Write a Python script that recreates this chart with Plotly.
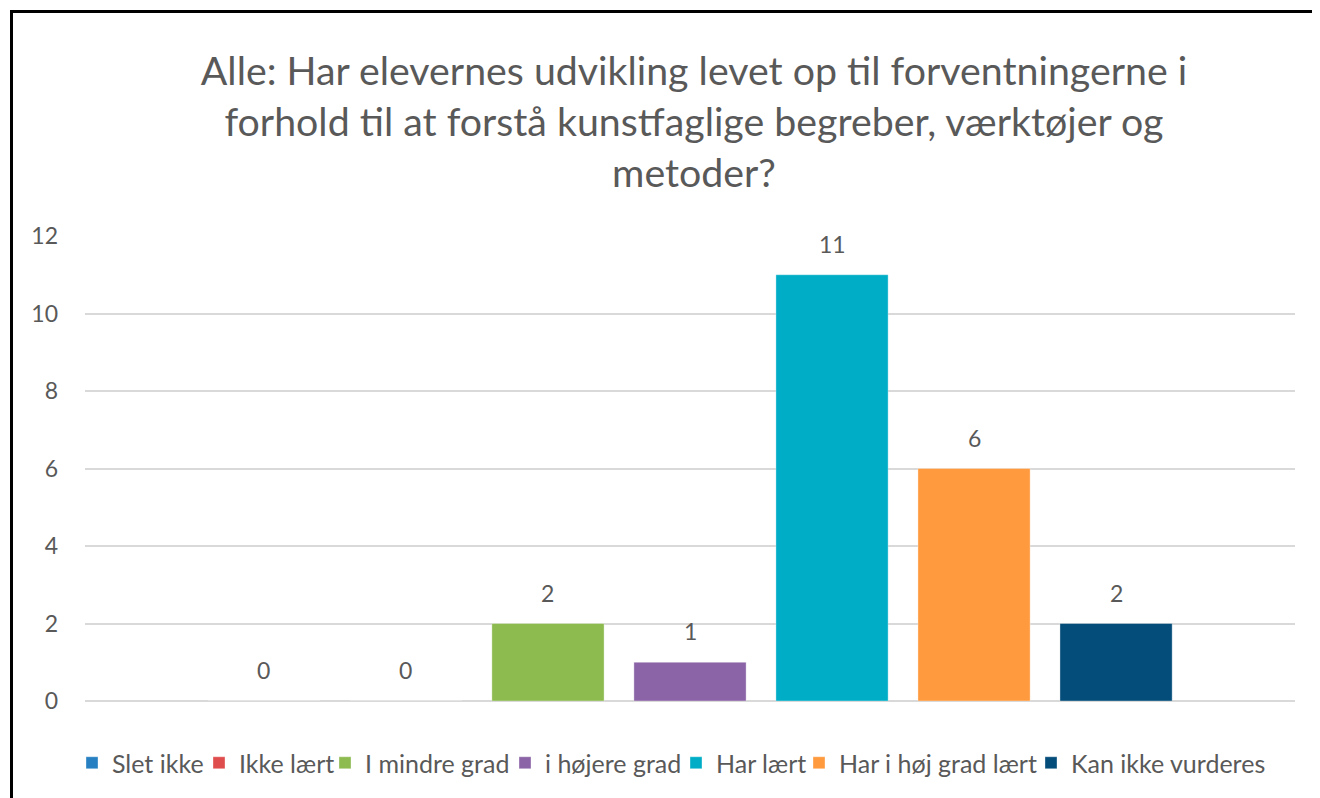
import plotly.graph_objects as go

# ---- data ----
categories = ["Slet ikke", "Ikke lært", "I mindre grad", "i højere grad",
              "Har lært", "Har i høj grad lært", "Kan ikke vurderes"]
values = [0, 0, 2, 1, 11, 6, 2]
colors = ["#2680C2", "#E04D4D", "#8DBB4F", "#8A64A6", "#00ADC6", "#FF9A3E", "#044C79"]
y_ticks = [0, 2, 4, 6, 8, 10, 12]
title_text = ("Alle: Har elevernes udvikling levet op til forventningerne i<br>"
              "forhold til at forstå kunstfaglige begreber, værktøjer og<br>"
              "metoder?")
# legend entry widths (px) as in the reference legend spacing
legend_widths = [82, 81, 135, 126, 78, 187, 200]

# page has an 8px body margin
OFF = 8
W, H = 1320 - OFF, 798 - OFF
PL, PR, PT, PB = 85, 1295, 236, 701          # plot area in page px
L, R, T, B = PL - OFF, (W + OFF) - PR, PT - OFF, (H + OFF) - PB
pw, ph = PR - PL, PB - PT

FONT = "Lato"
GRAY = "#595959"


def px_x(p):
    return (p - PL) / pw


def px_y(p):
    return (PB - p) / ph


fig = go.Figure()
for cat, val, col, lw in zip(categories, values, colors, legend_widths):
    fig.add_trace(go.Bar(
        x=[cat], y=[val], name=cat,
        marker=dict(color=col, line=dict(color="rgba(255,255,255,0.35)", width=1)),
        width=0.79, legendwidth=lw,
        hoverinfo="x+y",
    ))
    fig.add_annotation(
        x=cat, y=val, text=str(val), showarrow=False,
        yshift=31, yanchor="middle", xanchor="center",
        font=dict(family=FONT, size=23, color=GRAY),
    )

# chart frame (left and top edges visible in the reference)
frame = dict(color="black", width=3)
fig.add_shape(type="line", xref="paper", yref="paper",
              x0=px_x(11.5), x1=px_x(11.5), y0=px_y(900), y1=px_y(10),
              line=frame, layer="above")
fig.add_shape(type="line", xref="paper", yref="paper",
              x0=px_x(10), x1=px_x(1500), y0=px_y(11.5), y1=px_y(11.5),
              line=frame, layer="above")

fig.update_layout(
    width=W, height=H,
    margin=dict(l=L, r=R, t=T, b=B, autoexpand=False),
    paper_bgcolor="white", plot_bgcolor="white",
    barmode="overlay",
    font=dict(family=FONT, color=GRAY, size=23),
    title=dict(text=title_text, x=(694 - OFF) / W, xanchor="center",
               y=1 - 77 / H, yanchor="top", xref="container", yref="container",
               font=dict(family=FONT, size=39.3, color=GRAY)),
    showlegend=True,
    legend=dict(orientation="h", x=px_x(72), xanchor="left",
                y=px_y(763), yanchor="middle",
                font=dict(family=FONT, size=25, color=GRAY),
                itemwidth=30, traceorder="normal", itemclick=False,
                bgcolor="rgba(0,0,0,0)"),
    xaxis=dict(type="category", categoryorder="array", categoryarray=categories,
               range=[-1.26, 7.26], showticklabels=False, showgrid=False,
               zeroline=False, showline=False, ticks=""),
    yaxis=dict(range=[0, 12], tickvals=y_ticks, showgrid=True, gridcolor="#D9D9D9",
               gridwidth=2, zeroline=True, zerolinecolor="#D9D9D9", zerolinewidth=2,
               showline=False, ticks="", ticklabelstandoff=26,
               tickfont=dict(family=FONT, size=23, color=GRAY)),
)

fig.write_html("out.html")
